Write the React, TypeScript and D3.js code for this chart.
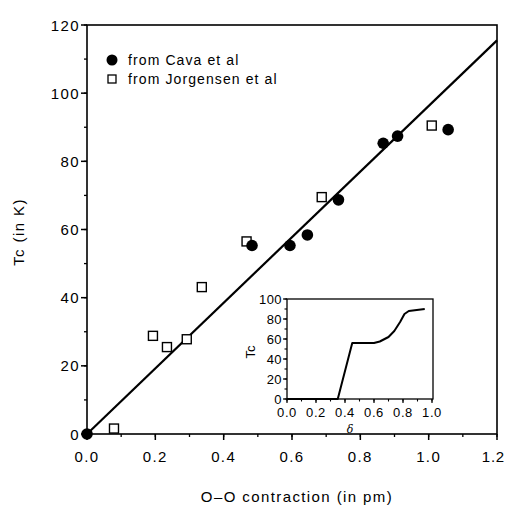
import React, { useEffect, useRef } from "react";
import * as d3 from "d3";

// O-O contraction (pm) vs Tc (K)
const cavaX = [0.0, 0.483, 0.594, 0.645, 0.736, 0.867, 0.909, 1.057];
const cavaY = [0.0, 55.3, 55.3, 58.4, 68.7, 85.3, 87.4, 89.3];
const jorgX = [0.079, 0.193, 0.234, 0.292, 0.336, 0.467, 0.687, 1.009];
const jorgY = [1.6, 28.8, 25.5, 27.8, 43.1, 56.5, 69.5, 90.5];
const fitX = [0.0, 1.2];
const fitY = [0.0, 115.5];

// inset: Tc vs delta
const insetDelta = [0.0, 0.35, 0.45, 0.6, 0.64, 0.7, 0.74, 0.78, 0.81, 0.84, 0.95];
const insetTc = [0, 0, 56, 56, 57.5, 62, 68, 77, 85, 88, 90];

const xTicks = [0, 0.2, 0.4, 0.6, 0.8, 1.0, 1.2];
const yTicks = [0, 20, 40, 60, 80, 100, 120];
const insetXTicks = [0, 0.2, 0.4, 0.6, 0.8, 1.0];
const insetYTicks = [0, 20, 40, 60, 80, 100];

const legendLabels = ["from Cava et al", "from Jorgensen et al"];

const FONT = "'Liberation Sans', Arial, Helvetica, sans-serif";

const App = () => {
  const svgRef = useRef(null);
  const width = 506;
  const height = 508;

  useEffect(() => {
    const svg = d3.select(svgRef.current);
    svg.selectAll("*").remove();

    svg.append("rect").attr("width", width).attr("height", height).attr("fill", "#fff");

    const x = d3.scaleLinear().domain([0, 1.2]).range([87, 497]);
    const y = d3.scaleLinear().domain([0, 120]).range([434, 25]);

    const g = svg.append("g");

    // frame
    g.append("rect")
      .attr("x", x(0))
      .attr("y", y(120))
      .attr("width", x(1.2) - x(0))
      .attr("height", y(0) - y(120))
      .attr("fill", "none")
      .attr("stroke", "#000")
      .attr("stroke-width", 1.6);

    // minor ticks
    d3.range(0, 1.21, 0.1).forEach((v) => {
      g.append("line")
        .attr("x1", x(v)).attr("x2", x(v))
        .attr("y1", y(0)).attr("y2", y(0) + 3)
        .attr("stroke", "#000").attr("stroke-width", 1.3);
    });
    d3.range(0, 121, 10).forEach((v) => {
      g.append("line")
        .attr("x1", x(0) - 3).attr("x2", x(0))
        .attr("y1", y(v)).attr("y2", y(v))
        .attr("stroke", "#000").attr("stroke-width", 1.3);
    });

    // major ticks + labels
    xTicks.forEach((v, i) => {
      const last = i === xTicks.length - 1;
      g.append("line")
        .attr("x1", x(v)).attr("x2", x(v))
        .attr("y1", y(0)).attr("y2", y(0) + 6)
        .attr("stroke", "#000").attr("stroke-width", 1.5);
      g.append("text")
        .attr("x", last ? width - 1 : x(v))
        .attr("y", y(0) + 28)
        .attr("text-anchor", last ? "end" : "middle")
        .attr("font-family", FONT)
        .attr("font-size", 15)
        .attr("letter-spacing", last ? 0.8 : 1.4)
        .text(v.toFixed(1));
    });
    yTicks.forEach((v) => {
      g.append("line")
        .attr("x1", x(0) - 6).attr("x2", x(0))
        .attr("y1", y(v)).attr("y2", y(v))
        .attr("stroke", "#000").attr("stroke-width", 1.5);
      g.append("text")
        .attr("x", x(0) - 7)
        .attr("y", y(v) + 5.5)
        .attr("text-anchor", "end")
        .attr("font-family", FONT)
        .attr("font-size", 15)
        .attr("letter-spacing", 1.4)
        .text(v);
    });

    // axis titles
    g.append("text")
      .attr("x", 297)
      .attr("y", 502)
      .attr("text-anchor", "middle")
      .attr("font-family", FONT)
      .attr("font-size", 15)
      .attr("letter-spacing", 1.4)
      .text("O\u2013O contraction (in pm)");

    g.append("text")
      .attr("transform", "translate(24,232) rotate(-90)")
      .attr("text-anchor", "middle")
      .attr("font-family", FONT)
      .attr("font-size", 15)
      .attr("letter-spacing", 1.4)
      .text("Tc (in K)");

    // fit line
    const fit = fitX.map((v, i) => [v, fitY[i]]);
    g.append("path")
      .attr("d", d3.line().x((d) => x(d[0])).y((d) => y(d[1]))(fit))
      .attr("fill", "none")
      .attr("stroke", "#000")
      .attr("stroke-width", 2.2);

    // Jorgensen squares
    jorgX.forEach((v, i) => {
      g.append("rect")
        .attr("x", x(v) - 4.5)
        .attr("y", y(jorgY[i]) - 4.5)
        .attr("width", 9)
        .attr("height", 9)
        .attr("fill", "#fff")
        .attr("stroke", "#000")
        .attr("stroke-width", 1.4);
    });

    // Cava circles
    cavaX.forEach((v, i) => {
      g.append("circle")
        .attr("cx", x(v))
        .attr("cy", y(cavaY[i]))
        .attr("r", 5.8)
        .attr("fill", "#000");
    });

    // legend
    g.append("circle").attr("cx", 112).attr("cy", 60).attr("r", 5.5).attr("fill", "#000");
    g.append("rect")
      .attr("x", 108).attr("y", 75)
      .attr("width", 8).attr("height", 8)
      .attr("fill", "#fff").attr("stroke", "#000").attr("stroke-width", 1.3);
    legendLabels.forEach((t, i) => {
      g.append("text")
        .attr("x", 128)
        .attr("y", 65 + i * 19)
        .attr("font-family", FONT)
        .attr("font-size", 14)
        .attr("letter-spacing", 1.1)
        .text(t);
    });

    // inset
    const ix = d3.scaleLinear().domain([0, 1]).range([287, 432]);
    const iy = d3.scaleLinear().domain([0, 100]).range([399, 299]);
    const ig = svg.append("g");

    ig.append("rect")
      .attr("x", ix(0))
      .attr("y", iy(100))
      .attr("width", ix(1) - ix(0) + 1)
      .attr("height", iy(0) - iy(100))
      .attr("fill", "#fff")
      .attr("stroke", "#000")
      .attr("stroke-width", 1.3);

    d3.range(0, 1.01, 0.1).forEach((v) => {
      ig.append("line")
        .attr("x1", ix(v)).attr("x2", ix(v))
        .attr("y1", iy(0)).attr("y2", iy(0) + 2.5)
        .attr("stroke", "#000").attr("stroke-width", 1.1);
    });
    d3.range(0, 101, 10).forEach((v) => {
      ig.append("line")
        .attr("x1", ix(0) - 2.5).attr("x2", ix(0))
        .attr("y1", iy(v)).attr("y2", iy(v))
        .attr("stroke", "#000").attr("stroke-width", 1.1);
    });
    insetXTicks.forEach((v) => {
      ig.append("line")
        .attr("x1", ix(v)).attr("x2", ix(v))
        .attr("y1", iy(0)).attr("y2", iy(0) + 4)
        .attr("stroke", "#000").attr("stroke-width", 1.2);
      ig.append("text")
        .attr("x", ix(v))
        .attr("y", iy(0) + 18)
        .attr("text-anchor", "middle")
        .attr("font-family", FONT)
        .attr("font-size", 13)
        .attr("letter-spacing", 0.6)
        .text(v.toFixed(1));
    });
    insetYTicks.forEach((v) => {
      ig.append("line")
        .attr("x1", ix(0) - 4).attr("x2", ix(0))
        .attr("y1", iy(v)).attr("y2", iy(v))
        .attr("stroke", "#000").attr("stroke-width", 1.2);
      ig.append("text")
        .attr("x", ix(0) - 5)
        .attr("y", iy(v) + 4.5)
        .attr("text-anchor", "end")
        .attr("font-family", FONT)
        .attr("font-size", 13)
        .attr("letter-spacing", 0.4)
        .text(v);
    });

    const curve = insetDelta.map((v, i) => [v, insetTc[i]]);
    ig.append("path")
      .attr("d", d3.line().x((d) => ix(d[0])).y((d) => iy(d[1]))(curve))
      .attr("fill", "none")
      .attr("stroke", "#000")
      .attr("stroke-width", 2)
      .attr("stroke-linejoin", "round");

    ig.append("text")
      .attr("transform", "translate(255,352) rotate(-90)")
      .attr("text-anchor", "middle")
      .attr("font-family", FONT)
      .attr("font-size", 13)
      .text("Tc");

    ig.append("text")
      .attr("x", 350)
      .attr("y", 433)
      .attr("text-anchor", "middle")
      .attr("font-family", "'DejaVu Serif', serif")
      .attr("font-style", "italic")
      .attr("font-size", 11)
      .text("δ");
  }, []);

  return (
    <svg
      ref={svgRef}
      width={width}
      height={height}
      style={{ position: "absolute", left: 0, top: 0 }}
    ></svg>
  );
};

export default App;
